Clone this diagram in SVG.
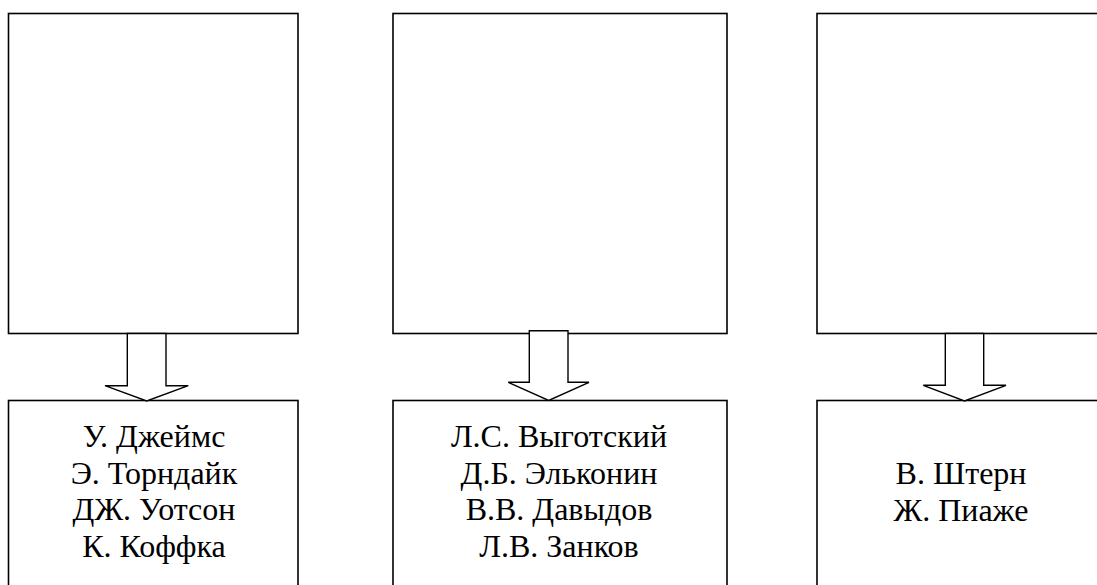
<svg xmlns="http://www.w3.org/2000/svg" width="1097" height="585" viewBox="0 0 1097 585">
<style>
.box{fill:#fff;stroke:#000;stroke-width:1.6}
.arr{fill:#fff;stroke:#000;stroke-width:1.4;stroke-linejoin:miter}
.t{font-family:"Liberation Serif","Times New Roman","DejaVu Serif",serif;font-size:32px;fill:#000;text-anchor:middle}
</style>
<rect width="1097" height="585" fill="#fff"/>
<g id="top1"><rect class="box" x="8.5" y="13.5" width="289.5" height="320"/></g>
<g id="top2"><rect class="box" x="393" y="13.5" width="334" height="320"/></g>
<g id="top3"><rect class="box" x="817" y="13.5" width="290" height="320"/></g>
<g id="bottom1"><rect class="box" x="8.5" y="400.5" width="289.5" height="200"/>
<text class="t"><tspan x="154" y="447">У. Джеймс</tspan><tspan x="154" y="484">Э. Торндайк</tspan><tspan x="154" y="520">ДЖ. Уотсон</tspan><tspan x="154" y="557">К. Коффка</tspan></text></g>
<g id="bottom2"><rect class="box" x="393" y="400.5" width="334" height="200"/>
<text class="t"><tspan x="559" y="447">Л.С. Выготский</tspan><tspan x="559" y="484">Д.Б. Эльконин</tspan><tspan x="559" y="520">В.В. Давыдов</tspan><tspan x="559" y="557">Л.В. Занков</tspan></text></g>
<g id="bottom3"><rect class="box" x="817" y="400.5" width="290" height="200"/>
<text class="t"><tspan x="961" y="483.5">В. Штерн</tspan><tspan x="961" y="521">Ж. Пиаже</tspan></text></g>
<g id="connectors">
<polygon class="arr" points="127.3,333.5 166,333.5 166,385.7 188.3,385.7 146.7,401 105,385.7 127.3,385.7"/>
<polygon class="arr" points="529.3,330.7 568,330.7 568,382.3 589,382.3 548.7,400.5 508.3,382.3 529.3,382.3"/>
<polygon class="arr" points="945.3,333.5 983.7,333.5 983.7,385.3 1006,385.3 964.5,401 923.3,385.3 945.3,385.3"/>
</g>
</svg>
